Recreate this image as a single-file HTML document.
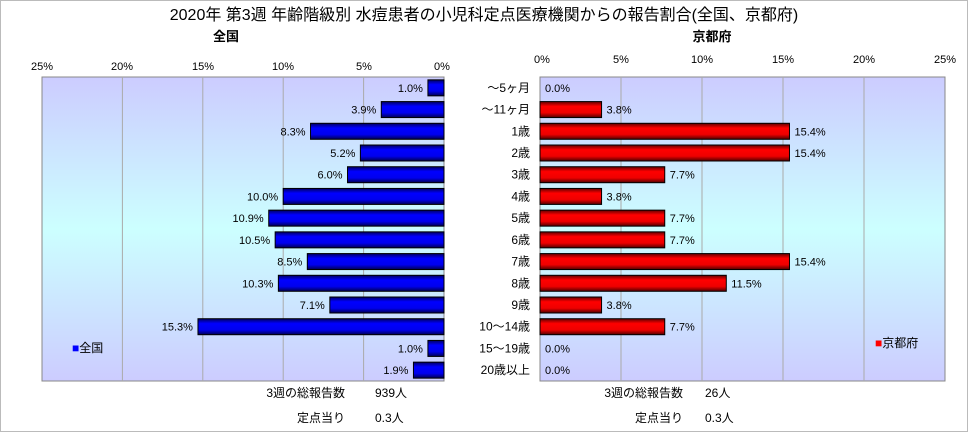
<!DOCTYPE html>
<html><head><meta charset="utf-8"><style>
body{margin:0;background:#fff}
svg text{font-family:"Liberation Sans","Noto Sans CJK JP",sans-serif;fill:#000}
</style></head><body>
<svg width="968" height="432" viewBox="0 0 968 432" xmlns="http://www.w3.org/2000/svg">
<defs>
<linearGradient id="bg" x1="0" y1="0" x2="0" y2="1">
<stop offset="0" stop-color="#ccccff"/><stop offset="0.5" stop-color="#ccffff"/><stop offset="1" stop-color="#ccccff"/>
</linearGradient>
<linearGradient id="bl" x1="0" y1="0" x2="0" y2="1">
<stop offset="0" stop-color="#000060"/><stop offset="0.3" stop-color="#0000ff"/><stop offset="0.7" stop-color="#0000ee"/><stop offset="1" stop-color="#000050"/>
</linearGradient>
<linearGradient id="rd" x1="0" y1="0" x2="0" y2="1">
<stop offset="0" stop-color="#600000"/><stop offset="0.3" stop-color="#ff0000"/><stop offset="0.7" stop-color="#ee0000"/><stop offset="1" stop-color="#500000"/>
</linearGradient>
</defs>
<rect x="0.5" y="0.5" width="967" height="431" fill="#fff" stroke="#bbb"/>
<text x="484" y="20" font-size="16" text-anchor="middle">2020年 第3週 年齢階級別 水痘患者の小児科定点医療機関からの報告割合(全国、京都府)</text>
<text x="226" y="41" font-size="13" font-weight="bold" text-anchor="middle">全国</text>
<text x="712" y="41" font-size="13" font-weight="bold" text-anchor="middle">京都府</text>
<rect x="42" y="77" width="402" height="304" fill="url(#bg)" stroke="#888"/>
<rect x="540" y="77" width="405" height="304" fill="url(#bg)" stroke="#888"/>
<g stroke="#aaa" stroke-width="1">
<line x1="122.4" y1="77" x2="122.4" y2="381"/><line x1="202.8" y1="77" x2="202.8" y2="381"/><line x1="283.2" y1="77" x2="283.2" y2="381"/><line x1="363.6" y1="77" x2="363.6" y2="381"/>
<line x1="621" y1="77" x2="621" y2="381"/><line x1="702" y1="77" x2="702" y2="381"/><line x1="783" y1="77" x2="783" y2="381"/><line x1="864" y1="77" x2="864" y2="381"/>
</g>
<g font-size="11" text-anchor="middle">
<text x="42" y="70">25%</text><text x="122" y="70">20%</text><text x="203" y="70">15%</text><text x="283" y="70">10%</text><text x="364" y="70">5%</text><text x="442" y="70">0%</text>
<text x="542" y="63">0%</text><text x="621" y="63">5%</text><text x="702" y="63">10%</text><text x="783" y="63">15%</text><text x="864" y="63">20%</text><text x="945" y="63">25%</text>
</g>
<g id="bars" font-size="11"></g>
<text x="72" y="352" font-size="12"><tspan fill="#0000ff">■</tspan>全国</text>
<text x="875" y="347" font-size="12"><tspan fill="#ff0000">■</tspan>京都府</text>
<g font-size="12">
<text x="345" y="397" text-anchor="end">3週の総報告数</text><text x="375" y="397">939人</text>
<text x="345" y="422" text-anchor="end">定点当り</text><text x="375" y="422">0.3人</text>
<text x="683" y="397" text-anchor="end">3週の総報告数</text><text x="705" y="397">26人</text>
<text x="683" y="422" text-anchor="end">定点当り</text><text x="705" y="422">0.3人</text>
</g>
<g font-size="12" text-anchor="end" id="labels"></g>
</svg>
<script>
var labs=["～5ヶ月","～11ヶ月","1歳","2歳","3歳","4歳","5歳","6歳","7歳","8歳","9歳","10～14歳","15～19歳","20歳以上"];
var L=[1.0,3.9,8.3,5.2,6.0,10.0,10.9,10.5,8.5,10.3,7.1,15.3,1.0,1.9];
var R=[0,3.8,15.4,15.4,7.7,3.8,7.7,7.7,15.4,11.5,3.8,7.7,0,0];
var ns="http://www.w3.org/2000/svg",g=document.getElementById("bars"),lg=document.getElementById("labels");
function el(t,a,p,s){var e=document.createElementNS(ns,t);for(var k in a)e.setAttribute(k,a[k]);if(s)e.textContent=s;p.appendChild(e);return e;}
var rh=304/14;
for(var i=0;i<14;i++){
 var c=77+(i+0.5)*rh;
 var w=L[i]*402/25;
 el("rect",{x:444-w,y:c-8,width:w,height:16,fill:"url(#bl)",stroke:"#000"},g);
 el("text",{x:444-w-5,y:c+4,"text-anchor":"end"},g,L[i].toFixed(1)+"%");
 var wr=R[i]*405/25;
 if(wr>0)el("rect",{x:540,y:c-8,width:wr,height:16,fill:"url(#rd)",stroke:"#000"},g);
 el("text",{x:540+wr+5,y:c+4},g,R[i].toFixed(1)+"%");
 el("text",{x:530,y:c+4},lg,labs[i]);
}
</script>
</body></html>
